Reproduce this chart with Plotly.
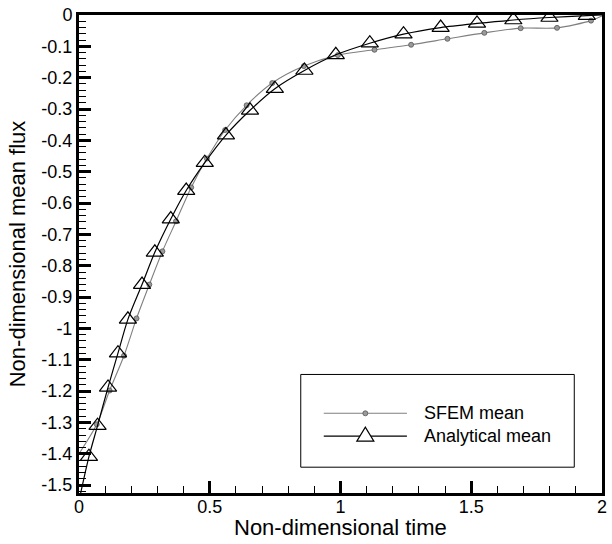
import plotly.graph_objects as go

# ---- data ----
sfem_t = [0.0, 0.068, 0.117, 0.172, 0.220, 0.269, 0.319, 0.371, 0.429, 0.489,
          0.559, 0.641, 0.739, 0.860, 0.990, 1.130, 1.270, 1.409, 1.550, 1.689,
          1.828, 1.958, 2.0]
sfem_flux = [-1.400, -1.306, -1.198, -1.087, -0.968, -0.860, -0.754, -0.658, -0.550, -0.458,
             -0.367, -0.288, -0.217, -0.163, -0.128, -0.111, -0.095, -0.076, -0.057, -0.042,
             -0.041, -0.018, -0.003]

analytical_t = [0.0, 0.038, 0.071, 0.111, 0.149, 0.187, 0.241, 0.290, 0.351, 0.410,
                0.481, 0.562, 0.654, 0.749, 0.862, 0.982, 1.112, 1.241, 1.383, 1.522,
                1.661, 1.799, 1.942, 2.0]
analytical_flux = [-1.550, -1.409, -1.310, -1.188, -1.079, -0.971, -0.860, -0.757, -0.651, -0.560,
                   -0.471, -0.383, -0.304, -0.235, -0.177, -0.127, -0.090, -0.061, -0.040, -0.027,
                   -0.016, -0.008, -0.002, 0.0]

x_tickvals = [0, 0.5, 1, 1.5, 2]
x_ticktext = ["0", "0.5", "1", "1.5", "2"]
y_tickvals = [0, -0.1, -0.2, -0.3, -0.4, -0.5, -0.6, -0.7, -0.8, -0.9, -1.0,
              -1.1, -1.2, -1.3, -1.4, -1.5]
y_ticktext = ["0", "-0.1", "-0.2", "-0.3", "-0.4", "-0.5", "-0.6", "-0.7", "-0.8", "-0.9", "-1",
              "-1.1", "-1.2", "-1.3", "-1.4", "-1.5"]

series_names = ["SFEM mean", "Analytical mean"]
x_title = "Non-dimensional time"
y_title = "Non-dimensional mean flux"

FONT = "Liberation Sans, Arial, Helvetica, sans-serif"
GRAY = "#7f7f7f"

fig = go.Figure()

# SFEM line + markers
fig.add_trace(go.Scatter(
    x=sfem_t, y=sfem_flux, mode="lines",
    line=dict(color=GRAY, width=1.1, shape="spline", smoothing=0.8),
    showlegend=False, hoverinfo="skip"))
fig.add_trace(go.Scatter(
    x=sfem_t[1:-1], y=sfem_flux[1:-1], mode="markers", name=series_names[0],
    marker=dict(symbol="circle", size=5, color="#9a9a9a",
                line=dict(color="#555555", width=0.8)),
    showlegend=False))

# Analytical line + triangles
fig.add_trace(go.Scatter(
    x=analytical_t, y=analytical_flux, mode="lines",
    line=dict(color="black", width=1.2, shape="spline", smoothing=0.8),
    showlegend=False, hoverinfo="skip"))
fig.add_trace(go.Scatter(
    x=analytical_t[1:-1], y=analytical_flux[1:-1], mode="markers", name=series_names[1],
    marker=dict(symbol="triangle-up-open", size=15, color="black",
                line=dict(color="black", width=1.2)),
    showlegend=False))

# ---- manual legend (box, samples, labels) ----
L = dict(x0=0.424, x1=0.947, y0=0.054, y1=0.248)
shapes = [
    dict(type="rect", xref="paper", yref="paper", **L,
         line=dict(color="black", width=1), fillcolor="white", layer="above"),
    dict(type="line", xref="paper", yref="paper", x0=0.468, x1=0.627, y0=0.1667, y1=0.1667,
         line=dict(color=GRAY, width=1.1), layer="above"),
    dict(type="line", xref="paper", yref="paper", x0=0.468, x1=0.627, y0=0.119, y1=0.119,
         line=dict(color="black", width=1.2), layer="above"),
    dict(type="circle", xref="paper", yref="paper", xsizemode="pixel", ysizemode="pixel",
         xanchor=0.5475, yanchor=0.1667, x0=-2.5, x1=2.5, y0=-2.5, y1=2.5,
         fillcolor="#9a9a9a", line=dict(color="#555555", width=0.8), layer="above"),
    dict(type="path", xref="paper", yref="paper", xsizemode="pixel", ysizemode="pixel",
         xanchor=0.5475, yanchor=0.119,
         path="M -8.5,-5 L 8.5,-5 L 0,9 Z",
         fillcolor="white", line=dict(color="black", width=1.2), layer="above"),
]
annotations = [
    dict(text=series_names[0], xref="paper", yref="paper", x=0.655, y=0.1667,
         xanchor="left", yanchor="middle", showarrow=False,
         font=dict(family=FONT, size=18, color="black")),
    dict(text=series_names[1], xref="paper", yref="paper", x=0.655, y=0.119,
         xanchor="left", yanchor="middle", showarrow=False,
         font=dict(family=FONT, size=18, color="black")),
    dict(text=x_title, xref="paper", yref="paper", x=0.5, y=-0.073,
         xanchor="center", yanchor="middle", showarrow=False,
         font=dict(family=FONT, size=22, color="black")),
    dict(text=y_title, xref="paper", yref="paper", x=-0.118, y=0.5, textangle=-90,
         xanchor="center", yanchor="middle", showarrow=False,
         font=dict(family=FONT, size=22, color="black")),
]

axis_common = dict(
    showgrid=False, zeroline=False, showline=True, linecolor="black", linewidth=3,
    mirror=True, ticks="inside", ticklen=12, tickwidth=2.5, tickcolor="black",
    tickfont=dict(family=FONT, size=18, color="black"),
)

fig.update_layout(
    width=612, height=544,
    margin=dict(l=79, r=5, t=13, b=51),
    paper_bgcolor="white", plot_bgcolor="white",
    font=dict(family=FONT, color="black"),
    showlegend=False,
    shapes=shapes, annotations=annotations,
    xaxis=dict(range=[0, 2], tickmode="array", tickvals=x_tickvals, ticktext=x_ticktext,
               ticklabelstandoff=-5,
               minor=dict(ticks="inside", dtick=0.1, tick0=0, ticklen=7, tickwidth=1,
                          tickcolor="black", showgrid=False),
               **axis_common),
    yaxis=dict(range=[-1.525, 0], tickmode="array", tickvals=y_tickvals, ticktext=y_ticktext,
               ticklabelstandoff=0,
               minor=dict(ticks="inside", dtick=0.02, tick0=0, ticklen=7, tickwidth=1,
                          tickcolor="black", showgrid=False),
               **axis_common),
)

fig.write_html("out.html", config={"displayModeBar": False},
               post_script="document.body.style.margin='0';document.body.style.overflow='hidden';")
